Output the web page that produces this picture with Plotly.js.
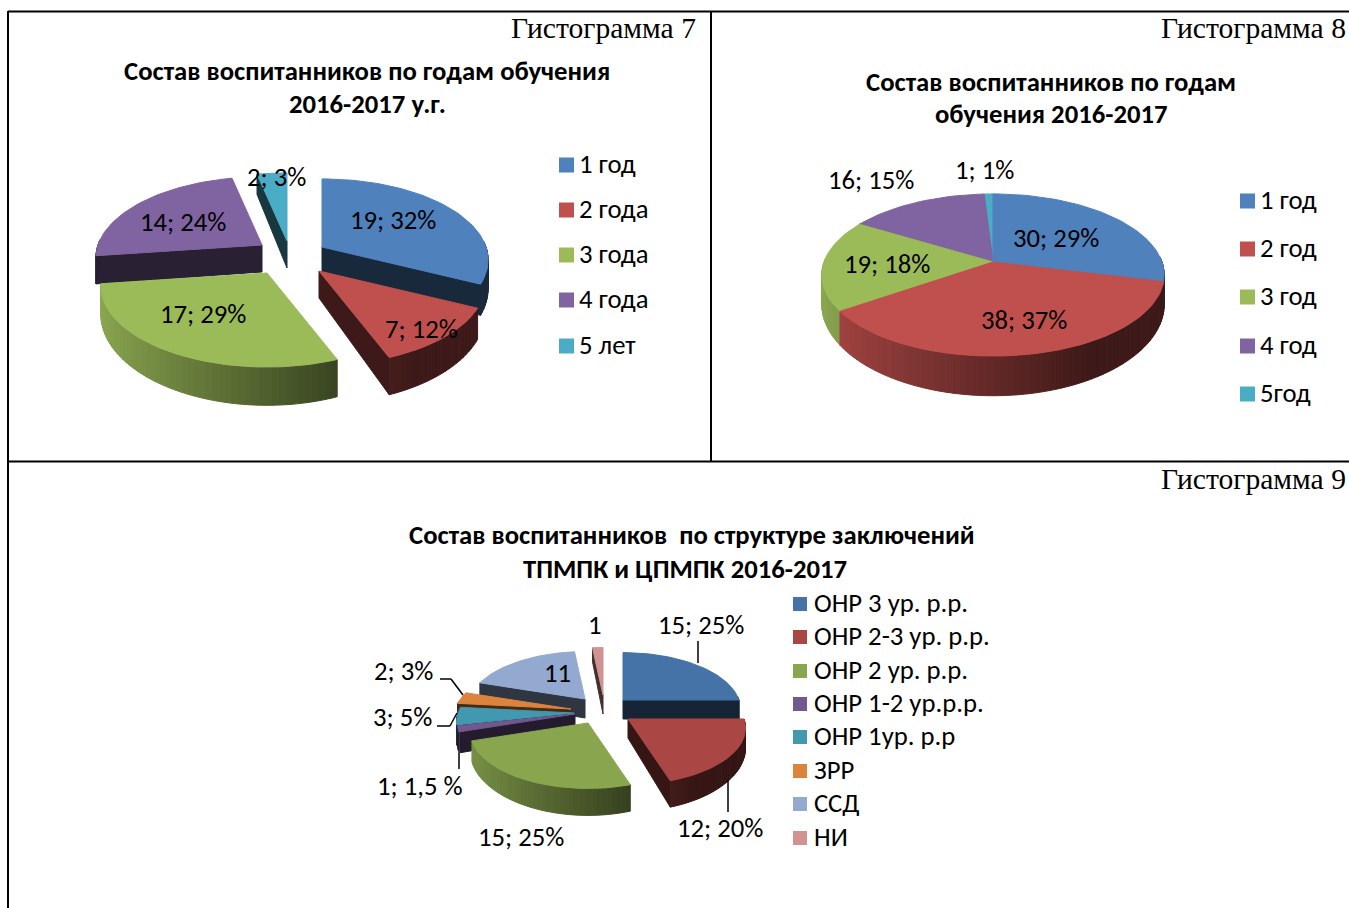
<!DOCTYPE html>
<html>
<head>
<meta charset="utf-8">
<script src="https://cdn.plot.ly/plotly-3.0.1.min.js"></script>
<style>html,body{margin:0;padding:0;background:#fff;overflow:hidden}</style>
</head>
<body>
<div id="chart" style="width:1349px;height:908px"></div>
<script>
// ---------- data ----------
const categories7 = ['1 год','2 года','3 года','4 года','5 лет'];
const values7 = [19,7,17,14,2];
const labels7 = ['19; 32%','7; 12%','17; 29%','14; 24%','2; 3%'];

const categories8 = ['1 год','2 год','3 год','4 год','5год'];
const values8 = [30,38,19,16,1];
const labels8 = ['30; 29%','38; 37%','19; 18%','16; 15%','1; 1%'];

const categories9 = ['ОНР 3 ур. р.р.','ОНР 2-3 ур. р.р.','ОНР 2 ур. р.р.','ОНР 1-2 ур.р.р.','ОНР 1ур. р.р','ЗРР','ССД','НИ'];
const values9 = [15,12,15,1,3,2,11,1];
const labels9 = ['15; 25%','12; 20%','15; 25%','1; 1,5 %','3; 5%','2; 3%','11','1'];

// ---------- styles / layout ----------
const W = 1349, H = 908;
const SANS = 'Carlito, Lato, "Open Sans", sans-serif';
const SERIF = '"Liberation Serif", serif';
const FS = 26.7;
const office = ['#4f81bd','#c0504d','#9bbb59','#8064a2','#4bacc6'];
const muted = ['#4572a7','#aa4643','#89a54e','#71588f','#4198af','#db843d','#93a9cf','#d19392'];

const charts = [
  {values:values7, labels:labels7, cats:categories7, colors:office,
   panel:[8,711,11,461], rx:164, ry:79, depth:27,
   apex:[[322,247],[319,271],[267,273],[262,245],[287,241]],
   labelPos:[[393,221],[421,330],[203,315],[183,223],[276,178]],
   legend:{x:559, tx:577, ys:[165,210,255,300,346], size:15}},
  {values:values8, labels:labels8, cats:categories8, colors:office,
   panel:[711,1349,11,461], rx:169, ry:79, depth:28,
   apex:[[993,262],[993,262],[993,262],[993,262],[993,262]],
   labelPos:[[1056,239],[1024,321],[887,265],[871,181],[985,171]],
   legend:{x:1240, tx:1258, ys:[201,249,297,346,394], size:15}},
  {values:values9, labels:labels9, cats:categories9, colors:muted,
   panel:[8,1349,461,908], rx:116, ry:55, depth:19,
   apex:[[623,700],[628,719],[588,723],[575,714],[574,713],[571,709],[585,699],[603,695]],
   labelPos:[[701,626],[720,829],[521,838],[420,787],[402,718],[404,672],[557,674],[595,626]],
   legend:{x:793, tx:812, ys:[604,637,671,704,737,771,804,838], size:14}}
];
const K = 0.16;   // perspective strength
const TEXT_DY = -1;

const headers = [['Гистограмма 7',698,29],['Гистограмма 8',1348,29],['Гистограмма 9',1348,480]];
const titles = [
  ['Состав воспитанников по годам обучения',367,72],['2016-2017 у.г.',367,105],
  ['Состав воспитанников по годам',1051,83],['обучения 2016-2017',1051,115],
  ['Состав воспитанников\u00a0 по структуре заключений',691.5,536],['ТПМПК и ЦПМПК 2016-2017',684.5,570]
];
const leaders = [
  [[698,641],[698,663]],
  [[728,780],[728,812]],
  [[459,753],[459,769]],
  [[437,726],[450,726],[457,713]],
  [[440,679],[451,679],[463,695]]
];
const borders = [[8,11.5,1349,11.5],[8,11,8,908],[711,11,711,461],[8,461.5,1349,461.5]];

// ---------- helpers ----------
const rgb = h => [1,3,5].map(i => parseInt(h.substr(i,2),16));
const shade = (h,f) => 'rgb(' + rgb(h).map(v => Math.round(v*f)).join(',') + ')';
const px = x => x / W, py = y => 1 - y / H, ty = y => py(y + TEXT_DY);

const traces = [], annotations = [], shapes = [];
const layout = {width:W, height:H, margin:{l:0,r:0,t:0,b:0}, paper_bgcolor:'#fff', plot_bgcolor:'#fff',
  showlegend:false, hovermode:false, annotations, shapes};

charts.forEach((c, ci) => {
  const suffix = ci === 0 ? '' : String(ci+1);
  const [x0,x1,y0,y1] = c.panel;
  const hidden = {visible:false, fixedrange:true, showgrid:false, zeroline:false};
  layout['xaxis'+suffix] = Object.assign({domain:[x0/W,x1/W], range:[x0,x1], anchor:'y'+suffix}, hidden);
  layout['yaxis'+suffix] = Object.assign({domain:[1-y1/H,1-y0/H], range:[y1,y0], anchor:'x'+suffix}, hidden);
  const xa = 'x'+suffix, ya = 'y'+suffix;

  const poly = (pts, color) => traces.push({type:'scatter', mode:'lines', xaxis:xa, yaxis:ya,
    x:pts.map(p=>p[0]).concat(pts[0][0]), y:pts.map(p=>p[1]).concat(pts[0][1]),
    fill:'toself', fillcolor:color, line:{color:color,width:1}, hoverinfo:'skip'});

  const total = c.values.reduce((a,b)=>a+b,0);
  let acc = 0;
  const slices = c.values.map((v,i) => {
    const a0 = acc/total*2*Math.PI; acc += v;
    const a1 = acc/total*2*Math.PI;
    return {i, a0, a1, mid:-Math.cos((a0+a1)/2)};
  }).sort((a,b)=>a.mid-b.mid);

  slices.forEach(s => {
    const color = c.colors[s.i], [ax,ay] = c.apex[s.i];
    const rimPt = t => {
      const X = Math.sin(t), Y = -Math.cos(t), sc = 1/(1-K*Y);
      return {x:ax+c.rx*X*sc, y:ay+c.ry*Y*sc, d:c.depth*sc*sc, X, Y};
    };
    const n = Math.max(2, Math.ceil((s.a1-s.a0)/(2*Math.PI/180)));
    const angle = k => s.a0 + (s.a1-s.a0)*k/n;

    const radial = t => {
      const r = rimPt(t);
      poly([[ax,ay],[r.x,r.y],[r.x,r.y+r.d],[ax,ay+c.depth]], shade(color,0.32));
    };
    if (Math.sin(s.a0) < 0) radial(s.a0);
    if (Math.sin(s.a1) > 0) radial(s.a1);

    for (let k=0;k<n;k++){
      const p = rimPt(angle(k)), q = rimPt(angle(k+1));
      if (Math.max(p.Y,q.Y) < -0.05) continue;
      // near the left edge, a slice whose radial face is showing stays dark
      const edge = s.a0 > 250*Math.PI/180 && Math.max(p.Y,q.Y) < 0.3;
      const f = edge ? 0.32 : Math.max(0.32, 0.51 - 0.39*(p.X+q.X)/2);
      poly([[p.x,p.y],[q.x,q.y],[q.x,q.y+q.d],[p.x,p.y+p.d]], shade(color,f));
    }

    const top = [[ax,ay]];
    for (let k=0;k<=n;k++){ const p = rimPt(angle(k)); top.push([p.x,p.y]); }
    poly(top, color);
  });

  c.labels.forEach((t,i) => annotations.push({text:t, xref:'paper', yref:'paper',
    x:px(c.labelPos[i][0]), y:ty(c.labelPos[i][1]), xanchor:'center', yanchor:'middle', showarrow:false,
    font:{family:SANS, size:FS, color:'#000'}}));

  const L = c.legend;
  c.cats.forEach((t,i) => {
    const y = L.ys[i];
    shapes.push({type:'rect', xref:'paper', yref:'paper', x0:px(L.x), x1:px(L.x+L.size),
      y0:py(y-L.size/2), y1:py(y+L.size/2), fillcolor:c.colors[i], line:{width:0}});
    annotations.push({text:t, xref:'paper', yref:'paper', x:px(L.tx), y:ty(y),
      xanchor:'left', yanchor:'middle', showarrow:false, font:{family:SANS, size:FS, color:'#000'}});
  });
});

headers.forEach(h => annotations.push({text:h[0], xref:'paper', yref:'paper', x:px(h[1]), y:ty(h[2]),
  xanchor:'right', yanchor:'middle', showarrow:false, font:{family:SERIF, size:29.6, color:'#000'}}));
titles.forEach(t => annotations.push({text:'<b>'+t[0]+'</b>', xref:'paper', yref:'paper', x:px(t[1]), y:ty(t[2]),
  xanchor:'center', yanchor:'middle', showarrow:false, font:{family:SANS, size:FS, color:'#000'}}));

borders.forEach(b => shapes.push({type:'line', xref:'paper', yref:'paper',
  x0:px(b[0]), y0:py(b[1]), x1:px(b[2]), y1:py(b[3]), line:{color:'#000',width:2}}));
leaders.forEach(l => {
  for (let i=0;i<l.length-1;i++) shapes.push({type:'line', xref:'paper', yref:'paper',
    x0:px(l[i][0]), y0:py(l[i][1]), x1:px(l[i+1][0]), y1:py(l[i+1][1]), line:{color:'#000',width:1.5}});
});

Plotly.newPlot('chart', traces, layout, {displayModeBar:false, staticPlot:true});
</script>
</body>
</html>
